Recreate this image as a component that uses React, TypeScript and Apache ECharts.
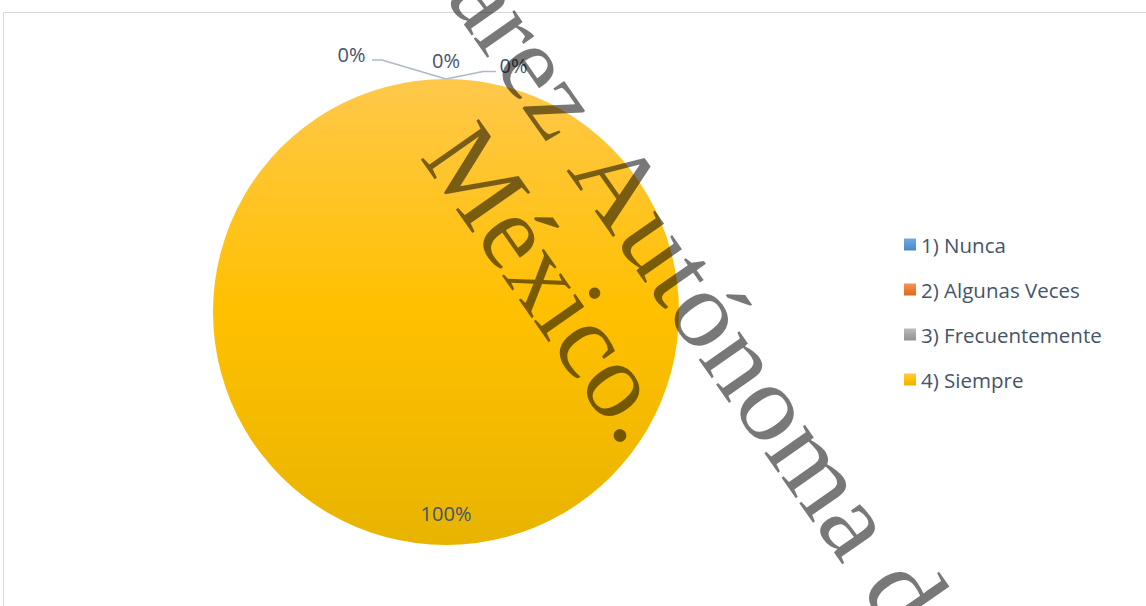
import React, { useEffect, useRef } from "react";
import * as echarts from "echarts";

const categories = ["1) Nunca", "2) Algunas Veces", "3) Frecuentemente", "4) Siempre"];
const values = [0, 0, 0, 100];
const watermarkLine1Before = "Universidad Juárez ";
const watermarkLine1After = "Autónoma de Tabasco.";
const watermarkLine2 = "México.";

const CX = 446;
const CY = 312;
const R = 233;

const grad = (a: string, b: string, c: string) =>
  new echarts.graphic.LinearGradient(0, 0, 0, 1, [
    { offset: 0, color: a },
    { offset: 0.5, color: b },
    { offset: 1, color: c },
  ]);

const sliceColors = [
  grad("#72AAE0", "#5B9BD5", "#4A89C2"),
  grad("#F49460", "#ED7D31", "#D86A20"),
  grad("#BDBDBD", "#A5A5A5", "#939393"),
  grad("#FFC84A", "#FFC000", "#E8B400"),
];

export default function App() {
  const ref = useRef<HTMLDivElement>(null);
  useEffect(() => {
    if (!ref.current) return;
    const chart = echarts.init(ref.current, undefined, { renderer: "svg" });
    const ang = (55 * Math.PI) / 180;
    const rot = -ang;
    const S = 108;
    const mid = -0.3375 * S;
    const wmStyle = {
      fontFamily: '"Liberation Serif", "Times New Roman", serif',
      fontSize: S,
      fill: "rgba(0,0,0,0.53)",
    };
    // baseline start points (screen) of "Autónoma" and "México."
    const ax = 566, ay = 170;
    const mx = 419, my = 157;
    const dx = mx - ax, dy = my - ay;
    const localX = dx * Math.cos(ang) + dy * Math.sin(ang);
    const localY = -dx * Math.sin(ang) + dy * Math.cos(ang);
    const topX = CX;
    const topY = CY - R;
    chart.setOption({
      animation: false,
      backgroundColor: "#FFFFFF",
      legend: {
        orient: "vertical",
        left: 899,
        top: 229,
        itemWidth: 12,
        itemHeight: 12,
        itemGap: 24,
        icon: "rect",
        data: categories,
        selectedMode: false,
        textStyle: {
          fontFamily: '"Open Sans", sans-serif',
          fontSize: 20.5,
          lineHeight: 21,
          color: "#44546A",
        },
      },
      series: [
        {
          type: "pie",
          center: [CX, CY],
          radius: R,
          startAngle: 90,
          clockwise: true,
          avoidLabelOverlap: false,
          silent: true,
          label: {
            show: true,
            position: "outside",
            formatter: "{d}%",
            fontFamily: '"Open Sans", sans-serif',
            fontSize: 20,
            color: "#44546A",
          },
          labelLine: {
            show: true,
            lineStyle: { color: "#ADB9CA", width: 1.5 },
          },
          data: categories.map((name, i) => ({
            name,
            value: values[i],
            itemStyle: { color: sliceColors[i] },
            label: i === 3 ? { position: "inside" } : undefined,
            labelLine: i === 1 ? { show: false } : undefined,
          })),
          labelLayout: (params: any) => {
            const i = params.dataIndex;
            if (i === 0) {
              return {
                x: topX - 94.5,
                y: topY - 25,
                align: "center",
                verticalAlign: "middle",
                labelLinePoints: [
                  [topX, topY],
                  [topX - 64, topY - 19],
                  [topX - 74, topY - 19],
                ],
              };
            }
            if (i === 1) {
              return { x: topX, y: topY - 18.5, align: "center", verticalAlign: "middle" };
            }
            if (i === 2) {
              return {
                x: topX + 67.5,
                y: topY - 14,
                align: "center",
                verticalAlign: "middle",
                labelLinePoints: [
                  [topX, topY],
                  [topX + 37, topY - 7.5],
                  [topX + 50, topY - 7.5],
                ],
              };
            }
            return { x: CX, y: CY + 0.865 * R, align: "center", verticalAlign: "middle" };
          },
        },
      ],
      graphic: {
        elements: [
          {
            type: "rect",
            z: 0,
            silent: true,
            shape: { x: 3.5, y: 12.5, width: 1300, height: 800 },
            style: { fill: "none", stroke: "#D9D9D9", lineWidth: 1 },
          },
          {
            type: "group",
            x: ax,
            y: ay,
            rotation: rot,
            z: 100,
            silent: true,
            children: [
              {
                type: "text",
                x: -4,
                y: mid,
                z: 100,
                style: {
                  ...wmStyle,
                  text: watermarkLine1Before,
                  align: "right",
                  textAlign: "right",
                  verticalAlign: "middle",
                  textVerticalAlign: "middle",
                },
              },
              {
                type: "text",
                x: 0,
                y: mid,
                z: 100,
                scaleX: 1.06,
                style: {
                  ...wmStyle,
                  text: watermarkLine1After,
                  align: "left",
                  textAlign: "left",
                  verticalAlign: "middle",
                  textVerticalAlign: "middle",
                },
              },
              {
                type: "text",
                x: localX,
                y: localY + mid,
                z: 100,
                style: {
                  ...wmStyle,
                  text: watermarkLine2,
                  align: "left",
                  textAlign: "left",
                  verticalAlign: "middle",
                  textVerticalAlign: "middle",
                },
              },
            ],
          },
        ],
      },
    });
    return () => chart.dispose();
  }, []);
  return (
    <div
      ref={ref}
      style={{ position: "absolute", left: 0, top: 0, width: 1146, height: 606 }}
    />
  );
}
